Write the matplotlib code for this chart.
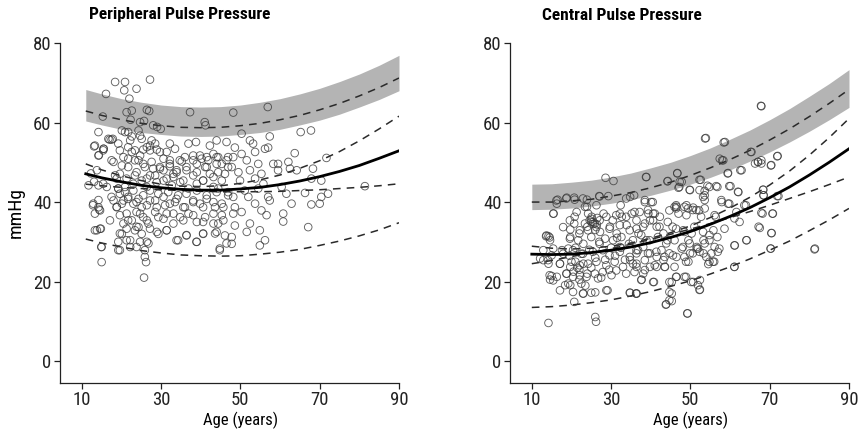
import numpy as np
import matplotlib
matplotlib.use("Agg")
import matplotlib.pyplot as plt
from matplotlib import font_manager

# narrow sans if available, otherwise a plain one
installed = {f.name for f in font_manager.fontManager.ttflist}
narrow = [n for n in ['Liberation Sans Narrow', 'DejaVu Sans Condensed', 'Roboto Condensed',
                      'Open Sans Condensed'] if n in installed]
plt.rcParams['font.family'] = narrow + ['Liberation Sans', 'DejaVu Sans']
if narrow:
    plt.rcParams['font.stretch'] = 'condensed'

# ---- data ----
# curve sample ages
peri_age = [11, 15, 20, 25, 30, 35, 40, 45, 50, 55, 60, 65, 70, 75, 80, 85, 90]
cent_age = [10, 15, 20, 25, 30, 35, 40, 45, 50, 55, 60, 65, 70, 75, 80, 85, 90]

# peripheral pulse pressure curves (mmHg)
peri_mean = [47.1, 46.1, 45.1, 44.2, 43.6, 43.2, 43.0, 43.0, 43.3, 43.7, 44.4, 45.3, 46.4, 47.7, 49.2, 51.0, 52.9]
peri_hi = [62.9, 61.8, 60.7, 59.8, 59.2, 58.8, 58.7, 58.8, 59.2, 59.8, 60.7, 61.8, 63.2, 64.8, 66.7, 68.8, 71.2]
peri_band_top = [68.3, 67.2, 66.0, 65.1, 64.4, 64.0, 63.9, 64.0, 64.4, 65.1, 66.0, 67.2, 68.6, 70.3, 72.2, 74.4, 76.9]
peri_band_bot = [60.4, 59.4, 58.3, 57.5, 57.0, 56.6, 56.5, 56.6, 57.0, 57.5, 58.3, 59.4, 60.6, 62.1, 63.9, 65.8, 68.0]
peri_mid_a = [49.6, 48.1, 46.6, 45.4, 44.5, 44.0, 43.9, 44.1, 44.7, 45.6, 46.8, 48.5, 50.4, 52.7, 55.4, 58.4, 61.6]
peri_mid_b = [44.5, 44.1, 43.7, 43.4, 43.1, 42.9, 42.7, 42.6, 42.6, 42.6, 42.7, 42.9, 43.1, 43.4, 43.7, 44.1, 44.6]
peri_lo = [30.7, 29.7, 28.7, 27.8, 27.2, 26.7, 26.5, 26.4, 26.5, 26.9, 27.4, 28.1, 29.1, 30.2, 31.5, 33.0, 34.8]

# central pulse pressure curves (mmHg)
cent_mean = [26.9, 26.8, 26.9, 27.3, 27.9, 28.7, 29.8, 31.1, 32.6, 34.4, 36.4, 38.6, 41.1, 43.8, 46.8, 50.0, 53.4]
cent_hi = [40.0, 40.0, 40.3, 40.7, 41.5, 42.4, 43.6, 45.0, 46.7, 48.6, 50.7, 53.0, 55.6, 58.4, 61.5, 64.8, 68.3]
cent_band_top = [44.5, 44.6, 45.0, 45.5, 46.3, 47.3, 48.6, 50.0, 51.7, 53.6, 55.8, 58.1, 60.7, 63.5, 66.6, 69.8, 73.3]
cent_band_bot = [38.1, 38.2, 38.5, 39.0, 39.7, 40.6, 41.7, 43.0, 44.5, 46.2, 48.1, 50.3, 52.6, 55.1, 57.8, 60.7, 63.8]
cent_mid_a = [28.9, 28.4, 28.2, 28.4, 28.9, 29.7, 30.9, 32.3, 34.0, 36.1, 38.5, 41.2, 44.3, 47.8, 51.8, 56.2, 61.0]
cent_mid_b = [24.5, 25.3, 26.3, 27.2, 28.3, 29.4, 30.6, 31.9, 33.2, 34.6, 36.1, 37.6, 39.2, 40.9, 42.6, 44.4, 46.3]
cent_lo = [13.5, 13.7, 14.1, 14.7, 15.4, 16.4, 17.5, 18.8, 20.2, 21.9, 23.7, 25.7, 27.9, 30.2, 32.8, 35.5, 38.4]

# individual subjects: (age, pulse pressure)
peri_pts = [
    (27.2, 70.8), (18.4, 70.2), (20.9, 70.2), (23.8, 68.5), (20.7, 68.1), (16.1, 67.2), (22.0, 66.0),
    (21.3, 62.6), (22.6, 63.0), (26.4, 63.2), (27.0, 62.9), (15.3, 61.5), (25.7, 60.4), (37.3, 62.6),
    (41.0, 60.1), (41.2, 59.3), (28.0, 59.3), (29.0, 58.9), (29.9, 58.4), (24.7, 60.1), (22.3, 60.7),
    (14.2, 57.6), (20.1, 58.0), (17.0, 55.7), (17.8, 55.9), (21.7, 57.6), (24.3, 58.0), (22.2, 55.5),
    (25.1, 55.9), (27.6, 55.5), (32.2, 54.7), (26.4, 53.8), (28.5, 54.7), (36.9, 54.7), (38.8, 55.1),
    (42.3, 54.2), (44.0, 55.5), (13.3, 54.2), (15.4, 53.0), (19.6, 53.0), (20.5, 51.3), (22.6, 52.6),
    (23.4, 50.5), (24.7, 51.7), (27.2, 53.0), (29.7, 52.6), (30.6, 50.9), (32.2, 50.5), (34.7, 50.5),
    (35.2, 50.2), (38.1, 51.7), (40.2, 50.9), (41.5, 51.3), (43.2, 52.1), (14.2, 51.7), (18.0, 50.1),
    (21.7, 48.8), (25.5, 49.6), (28.0, 48.4), (29.7, 48.8), (32.2, 49.0), (33.1, 47.1), (36.4, 48.0),
    (39.0, 49.6), (41.1, 48.8), (44.0, 49.6), (19.6, 47.1), (23.8, 47.5), (27.2, 46.7), (30.6, 48.0),
    (33.9, 48.0), (42.3, 47.1), (13.8, 48.0), (11.7, 44.2), (15.4, 44.6), (18.8, 45.9), (19.2, 43.4),
    (20.9, 43.8), (23.0, 44.6), (25.1, 45.4), (26.4, 43.8), (28.9, 45.0), (31.4, 45.9), (32.7, 44.2),
    (34.8, 45.0), (36.9, 43.4), (39.0, 44.6), (40.6, 45.4), (43.2, 43.8), (16.3, 43.8), (12.9, 39.6),
    (14.2, 38.7), (17.5, 41.3), (19.6, 42.1), (20.5, 40.4), (21.7, 41.3), (23.0, 39.6), (24.3, 40.8),
    (25.1, 38.7), (27.2, 40.4), (28.9, 38.7), (30.6, 41.3), (32.2, 39.6), (33.9, 40.8), (36.0, 38.7),
    (38.1, 40.4), (39.8, 39.6), (41.5, 40.8), (43.6, 38.7), (18.8, 38.7), (13.3, 37.1), (19.6, 36.7),
    (21.7, 35.4), (23.8, 37.5), (25.5, 36.2), (26.8, 34.6), (29.3, 36.2), (31.4, 37.1), (33.1, 34.6),
    (34.8, 36.2), (36.9, 37.1), (39.0, 35.0), (41.1, 36.2), (43.2, 34.6), (20.5, 34.6), (13.3, 32.9),
    (14.6, 33.3), (20.1, 32.0), (21.3, 33.3), (23.4, 32.9), (24.3, 33.7), (25.1, 32.0), (27.2, 33.3),
    (29.3, 32.0), (31.4, 32.9), (33.9, 30.4), (36.4, 31.6), (39.0, 30.0), (40.6, 32.0), (44.0, 32.5),
    (19.2, 30.0), (22.2, 30.4), (26.4, 30.0), (15.0, 28.7), (19.6, 27.9), (23.8, 28.7), (25.9, 27.9),
    (25.9, 26.2), (26.2, 24.9), (15.0, 24.9), (44.8, 28.3), (25.7, 21.0),
    (48.2, 62.5), (56.9, 63.9), (65.2, 57.6), (67.8, 58.0), (50.3, 57.2), (57.4, 56.5), (46.5, 55.1),
    (52.4, 55.5), (53.2, 54.7), (63.7, 52.3), (71.7, 51.1), (48.6, 53.7), (56.2, 53.4), (57.0, 53.7),
    (44.4, 51.3), (46.9, 51.3), (50.3, 52.1), (53.7, 52.6), (45.3, 49.6), (47.8, 48.8), (51.6, 50.5),
    (54.5, 49.6), (58.3, 49.6), (59.5, 49.6), (62.1, 50.1), (62.5, 48.4), (64.2, 48.0), (68.3, 48.4),
    (46.1, 47.1), (49.5, 47.5), (52.4, 48.0), (55.3, 47.1), (59.5, 48.0), (45.3, 45.4), (49.9, 45.4),
    (53.7, 45.9), (55.8, 44.6), (67.9, 45.9), (70.4, 45.4), (81.4, 44.0), (44.4, 43.4), (46.9, 42.5),
    (51.1, 42.9), (54.5, 43.4), (60.4, 43.8), (61.6, 42.1), (66.3, 42.3), (72.1, 42.1), (70.4, 41.3),
    (70.0, 39.6), (48.2, 41.3), (52.0, 41.3), (57.0, 41.3), (45.3, 39.6), (48.6, 38.7), (53.7, 39.6),
    (57.4, 40.4), (62.9, 39.6), (67.9, 39.4), (45.3, 36.7), (50.3, 37.5), (55.3, 37.9), (56.6, 36.7),
    (60.8, 37.1), (60.8, 35.1), (44.4, 34.6), (48.6, 34.1), (52.4, 34.6), (67.1, 33.7), (51.6, 32.5),
    (54.9, 32.9), (46.1, 31.6), (56.2, 30.4), (54.9, 29.1), (47.8, 29.5), (44.8, 27.9),
    (12.3, 47.2), (13.1, 45.1), (14.2, 44.2), (12.8, 39.2), (14.2, 40.5), (14.4, 38.1), (13.8, 32.9),
    (14.9, 28.7), (13.1, 54.0), (14.3, 51.8), (15.5, 53.4),
    (16.7, 55.9), (17.5, 55.7), (20.9, 57.6), (22.6, 56.5), (24.7, 56.7), (15.5, 53.4), (19.2, 54.7),
    (21.7, 53.8), (23.4, 53.0), (25.5, 53.2), (27.2, 54.2), (28.9, 53.2), (31.4, 52.6), (33.5, 53.4),
    (36.0, 51.3), (38.1, 50.5), (39.8, 51.7), (41.9, 50.5), (44.0, 51.3), (46.5, 50.5), (48.2, 51.3),
    (17.5, 50.5), (20.1, 49.2), (21.7, 50.9), (24.3, 50.5), (25.9, 48.8), (27.6, 50.1), (29.7, 48.4),
    (32.2, 49.6), (33.9, 47.5), (36.4, 48.8), (39.0, 47.5), (41.5, 48.8), (44.4, 47.5), (46.9, 48.8),
    (18.4, 46.7), (21.3, 45.9), (23.4, 46.7), (26.4, 45.9), (28.5, 46.7), (30.6, 45.4), (33.1, 46.3),
    (35.6, 45.4), (38.1, 46.7), (40.6, 45.4), (43.2, 46.3), (19.2, 43.4), (20.9, 42.5), (23.0, 42.9),
    (25.5, 41.7), (27.2, 42.9), (29.3, 42.1), (31.8, 42.5), (34.3, 41.7), (36.4, 42.1), (39.0, 42.9),
    (41.5, 41.7), (44.0, 42.5), (46.9, 41.7), (18.0, 40.4), (20.1, 39.6), (21.7, 40.8), (23.8, 40.0),
    (26.4, 39.2), (28.5, 40.4), (31.0, 39.2), (33.5, 40.0), (35.6, 38.7), (38.1, 40.0), (40.6, 38.7),
    (43.2, 40.0), (45.7, 38.7),
    (14.6, 37.9), (14.8, 33.3), (19.6, 32.1), (21.3, 30.4), (19.2, 27.9), (22.2, 28.7), (24.7, 30.0),
    (26.8, 29.6), (28.9, 32.5), (31.4, 32.9), (34.3, 30.4), (36.4, 31.7), (38.9, 30.0), (40.6, 32.1),
    (43.6, 32.1), (46.5, 29.6), (47.8, 31.2), (21.3, 37.1), (22.6, 35.4), (23.8, 33.8), (24.7, 37.1),
    (26.4, 35.4), (28.5, 37.5), (30.6, 35.8), (33.1, 37.1), (35.6, 35.4), (38.1, 36.7), (40.6, 35.0),
    (43.2, 37.1), (45.7, 35.4), (48.2, 37.1), (17.1, 35.4), (18.8, 38.8),
]

cent_pts = [
    (67.9, 64.1), (53.9, 56.1), (58.7, 55.1), (65.4, 52.6), (72.0, 51.6), (57.4, 50.9), (58.3, 50.5),
    (67.1, 50.1), (67.9, 49.7), (66.3, 49.7), (70.3, 49.2), (28.6, 46.1), (30.6, 45.3), (38.8, 46.3),
    (46.7, 47.2), (44.2, 45.2), (47.8, 45.1), (47.2, 43.8), (52.6, 45.6), (59.4, 47.2), (62.9, 48.0),
    (49.9, 43.0), (54.3, 44.1), (56.8, 43.8), (59.8, 44.0), (53.6, 40.5), (53.6, 41.7), (57.9, 40.0),
    (59.8, 39.6), (62.1, 42.5), (68.4, 43.1), (68.4, 41.7), (72.2, 41.5), (64.0, 39.2), (16.5, 40.6),
    (16.3, 39.6), (15.5, 37.1), (18.8, 41.1), (20.7, 41.1), (23.9, 40.6), (27.0, 41.5), (29.3, 41.5),
    (34.8, 41.3), (35.8, 41.7), (32.4, 39.2), (38.5, 40.0), (40.5, 40.0), (39.4, 37.1), (40.6, 37.1),
    (44.7, 37.9), (46.5, 38.8), (49.0, 39.2), (50.7, 38.6), (52.2, 37.9), (56.4, 36.3), (61.6, 37.5),
    (68.2, 37.1), (70.7, 37.1), (67.5, 33.5), (70.5, 32.2), (70.3, 28.3), (81.4, 28.3), (64.2, 30.4),
    (61.2, 29.1), (61.1, 23.7), (56.0, 25.0), (54.5, 24.4), (52.4, 20.4), (52.4, 18.0), (50.7, 19.9),
    (49.3, 12.0), (48.9, 21.2), (46.5, 21.2), (45.3, 19.9), (45.3, 17.0), (45.3, 15.1), (43.8, 14.2),
    (49.5, 25.0), (43.6, 23.7), (40.8, 19.9), (37.7, 20.5), (36.3, 17.0), (34.8, 17.2), (29.1, 17.8),
    (26.0, 17.3), (23.0, 17.0), (20.7, 14.9), (26.0, 11.1), (26.2, 9.9), (14.2, 9.6), (14.6, 20.5),
    (15.0, 21.4), (16.3, 21.2), (14.2, 24.5), (12.9, 25.4), (12.1, 25.8), (15.0, 26.6), (14.2, 31.4),
    (13.6, 31.4), (14.6, 30.4), (17.6, 27.9), (17.1, 24.5), (18.4, 19.1), (19.7, 19.1), (18.8, 22.0),
    (19.7, 23.7), (19.2, 28.3), (19.7, 31.2), (19.7, 33.1), (20.7, 34.6), (21.3, 37.5), (22.0, 32.1),
    (23.4, 34.6), (23.9, 38.8), (25.1, 36.3), (25.5, 35.0), (26.4, 34.4), (27.2, 32.5), (28.1, 37.1),
    (28.5, 30.8), (29.7, 33.8), (30.4, 35.4), (31.4, 32.1), (32.2, 28.7), (32.7, 36.3), (33.9, 34.2),
    (35.2, 37.1), (36.9, 32.1), (38.1, 33.8), (38.9, 30.4), (39.8, 35.4), (41.5, 33.8), (42.3, 36.3),
    (43.2, 32.1), (44.2, 30.4), (45.5, 33.8), (46.4, 39.2), (47.0, 37.1), (48.2, 32.9), (49.5, 30.4),
    (50.3, 32.1), (51.6, 28.7), (53.3, 30.4), (54.8, 30.4), (55.8, 32.9), (56.8, 31.2), (57.3, 28.3),
    (55.3, 27.1), (53.3, 27.1), (51.6, 28.3), (49.9, 27.1), (47.8, 28.3), (46.5, 26.2), (44.7, 27.1),
    (42.7, 27.9), (41.5, 26.2), (39.8, 27.1), (38.1, 28.7), (36.4, 27.1), (34.8, 25.4), (36.4, 23.7),
    (38.5, 25.4), (39.8, 23.7), (41.5, 23.7), (43.2, 25.4), (38.1, 22.0),
    (15.4, 37.1), (16.2, 40.4), (18.7, 40.9), (20.8, 40.6), (22.9, 40.9), (27.1, 41.4), (33.8, 40.9),
    (23.4, 38.8), (26.3, 39.2), (19.6, 35.4), (20.8, 36.3), (24.2, 37.1), (24.6, 35.4), (25.0, 35.0),
    (25.9, 34.6), (27.1, 35.4), (28.8, 36.3), (31.3, 36.7), (32.2, 37.1), (33.8, 36.3), (35.9, 37.5),
    (17.9, 33.7), (22.1, 32.9), (24.2, 32.9), (26.3, 33.7), (29.6, 33.3), (32.2, 34.2), (34.7, 32.9),
    (36.4, 33.3), (13.7, 31.6), (14.5, 31.1), (19.6, 30.8), (21.7, 30.4), (25.0, 31.2), (27.1, 29.5),
    (30.5, 30.4), (32.6, 31.2), (35.5, 30.4), (12.9, 27.9), (15.4, 28.3), (17.9, 27.0), (20.4, 27.9),
    (22.9, 27.0), (25.4, 27.5), (27.9, 27.9), (29.6, 26.6), (32.2, 27.5), (34.7, 26.2), (36.4, 27.9),
    (14.1, 25.4), (17.1, 24.5), (20.0, 25.0), (22.1, 24.1), (24.2, 24.5), (26.3, 25.0), (28.8, 24.1),
    (30.9, 25.0), (33.0, 23.7), (35.5, 24.5), (14.5, 21.6), (15.4, 20.3), (18.7, 22.0), (19.2, 19.5),
    (20.4, 21.2), (22.1, 21.6), (22.5, 19.5), (23.8, 21.2), (25.9, 22.0), (26.7, 20.8), (27.9, 22.4),
    (30.1, 21.6), (31.3, 22.8), (33.8, 22.0), (35.9, 22.4), (20.4, 17.4), (22.9, 17.0), (25.0, 17.2),
    (28.8, 17.8), (34.7, 17.2), (36.4, 17.0), (17.1, 17.8),
    (22.0, 23.0), (23.0, 24.5), (24.0, 22.0), (21.0, 25.0), (25.0, 23.5), (26.0, 26.0), (24.5, 28.0),
    (23.0, 29.5), (27.0, 30.0), (26.0, 33.0), (25.5, 34.5), (26.5, 36.0), (25.0, 35.8), (24.0, 33.8),
    (22.5, 27.0), (21.5, 23.5), (20.5, 22.5), (22.0, 20.5), (23.5, 19.0), (27.5, 21.0), (28.5, 25.5),
    (29.5, 23.0), (31.0, 26.5), (32.5, 28.5), (33.5, 25.5), (34.5, 29.5), (30.0, 28.5), (31.5, 31.0),
    (21.0, 28.5), (19.5, 26.5),
    (53.7, 56.0), (58.4, 55.0), (65.2, 52.6), (58.0, 50.5), (62.6, 48.0), (59.5, 47.3), (46.7, 47.3),
    (38.9, 46.3), (44.3, 45.3), (47.3, 45.1), (52.3, 45.6), (47.0, 43.6), (49.8, 43.1), (52.3, 43.0),
    (53.6, 42.8), (54.8, 43.8), (56.5, 44.0), (60.1, 44.0), (62.0, 42.6), (53.2, 41.3), (57.8, 40.5),
    (59.5, 39.6), (63.6, 39.2), (38.5, 40.5), (40.1, 40.0), (39.3, 38.0), (41.0, 37.1), (46.0, 38.8),
    (46.4, 38.4), (48.5, 38.8), (49.4, 38.4), (50.6, 38.0), (51.5, 38.0), (53.6, 38.4), (49.0, 36.7),
    (52.7, 36.3), (56.1, 36.7), (37.2, 37.5), (36.4, 35.4), (38.5, 34.6), (40.6, 35.4), (42.2, 33.8),
    (44.3, 35.0), (46.4, 33.3), (48.5, 32.5), (51.0, 33.8), (53.2, 32.5), (54.8, 31.7), (58.6, 33.3),
    (61.1, 35.9), (62.4, 35.0), (37.6, 31.7), (39.7, 30.4), (41.8, 31.2), (43.9, 29.6), (46.0, 30.4),
    (48.1, 28.7), (49.8, 29.6), (51.9, 28.3), (53.6, 29.6), (56.1, 28.7), (56.9, 27.5), (61.1, 29.1),
    (64.1, 30.4), (36.8, 27.9), (39.3, 27.1), (41.4, 27.5), (43.5, 26.2), (45.6, 26.6), (48.5, 26.2),
    (50.6, 27.1), (52.3, 27.5), (54.0, 26.2), (54.8, 25.0), (55.7, 25.0), (36.4, 24.5), (38.5, 22.9),
    (41.0, 24.1), (43.5, 23.7), (46.0, 23.7), (48.9, 25.0), (37.6, 20.4), (40.6, 19.9), (44.7, 19.9),
    (46.4, 21.2), (48.5, 21.2), (50.2, 19.9), (51.9, 19.1), (52.3, 17.9), (44.7, 17.4), (44.7, 15.3),
    (43.9, 14.3), (49.2, 12.0), (61.1, 23.7), (36.4, 17.0),
    (67.8, 64.2), (67.0, 50.1), (67.9, 50.5), (71.9, 51.5), (70.4, 49.3), (68.3, 43.1), (68.5, 41.7),
    (71.9, 41.5), (67.9, 37.3), (70.8, 37.1), (67.2, 33.8), (70.4, 32.2), (70.2, 28.3), (81.3, 28.1),
]

titles = ["Peripheral Pulse Pressure", "Central Pulse Pressure"]
x_ticks = [10, 30, 50, 70, 90]
y_ticks = [0, 20, 40, 60, 80]

panels = [
    (peri_age, peri_mean, peri_hi, peri_band_top, peri_band_bot, [peri_mid_a, peri_mid_b, peri_lo], peri_pts),
    (cent_age, cent_mean, cent_hi, cent_band_top, cent_band_bot, [cent_mid_a, cent_mid_b, cent_lo], cent_pts),
]

W, H = 859, 434
fig = plt.figure(figsize=(W / 100, H / 100), dpi=100)
lefts = [60, 510]
title_x = [180, 622]
fs = 12 if narrow else 10

for i, (ages, mean, hi, btop, bbot, dashed, pts) in enumerate(panels):
    ax = fig.add_axes([lefts[i] / W, 1 - 383 / H, 339 / W, 340 / H])
    pts = np.array(pts)

    ax.fill_between(ages, bbot, btop, color='#b4b4b4', lw=0, zorder=1)
    ax.plot(ages, hi, color='#2a2a2a', lw=1.1, dashes=(5, 4), zorder=2)
    for d in dashed:
        ax.plot(ages, d, color='#2a2a2a', lw=1.1, dashes=(5, 4), zorder=2)
    ax.scatter(pts[:, 0], pts[:, 1], s=30, facecolors='none',
               edgecolors='#3a3a3a', linewidths=0.65, alpha=0.8, zorder=3)
    ax.plot(ages, mean, color='black', lw=2.0, zorder=4)

    ax.set_xlim(4.5, 90)
    ax.set_ylim(-5.5, 80)
    ax.set_xticks(x_ticks)
    ax.set_yticks(y_ticks)
    for s in ['top', 'right']:
        ax.spines[s].set_visible(False)
    for s in ['left', 'bottom']:
        ax.spines[s].set_linewidth(0.9)
        ax.spines[s].set_color('#222222')
    ax.tick_params(direction='out', length=4, width=0.9, pad=2,
                   labelsize=fs + 1.5, colors='#222222')
    ax.set_xlabel('Age (years)', fontsize=fs, labelpad=3)
    ax.xaxis.set_label_coords((50 - 4.5) / 85.5, -0.085)
    if i == 0:
        ax.set_ylabel('mmHg', fontsize=fs + 2)
        ax.yaxis.set_label_coords(-35 / 339, 0.5)
    fig.text(title_x[i] / W, 1 - 15 / H, titles[i], ha='center', va='center',
             fontsize=fs + 0.5, fontweight='bold')

fig.savefig('out.png', dpi=100)
